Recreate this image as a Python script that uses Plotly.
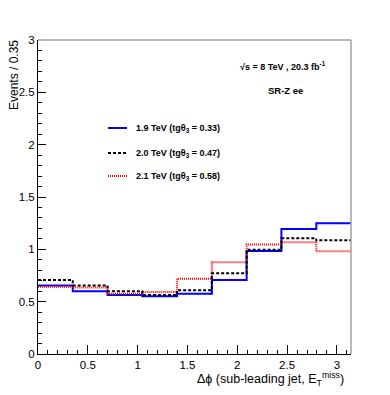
import plotly.graph_objects as go

# ---- data ----
bin_edges = [0.0, 0.349, 0.698, 1.047, 1.396, 1.745, 2.094, 2.443, 2.793, 3.1416]
series_names = ["1.9 TeV (tgθ<sub>3</sub> = 0.33)",
                "2.0 TeV (tgθ<sub>3</sub> = 0.47)",
                "2.1 TeV (tgθ<sub>3</sub> = 0.58)"]
vals_19 = [0.655, 0.600, 0.563, 0.551, 0.576, 0.706, 0.985, 1.194, 1.250]
vals_20 = [0.706, 0.655, 0.600, 0.563, 0.610, 0.772, 0.997, 1.105, 1.086]
vals_21 = [0.643, 0.636, 0.576, 0.592, 0.719, 0.877, 1.045, 1.067, 0.981]
x_ticks = [0, 0.5, 1, 1.5, 2, 2.5, 3]
x_tick_labels = ["0", "0.5", "1", "1.5", "2", "2.5", "3"]
y_ticks = [0, 0.5, 1, 1.5, 2, 2.5, 3]
y_tick_labels = ["0", "0.5", "1", "1.5", "2", "2.5", "3"]

FONT = "Liberation Sans, Arial, Helvetica, sans-serif"

# page body has an 8px default margin; work in window pixels and shift
OFF = 8
W, H = 390 - OFF, 395 - OFF
L, R, T, B = 38, 351, 40, 354  # plot area in window pixels


def px(x):
    return (x - L) / (R - L)


def py(y):
    return (B - y) / (B - T)


styles = [
    dict(color="#0000ff", width=2, dash="solid"),
    dict(color="#000000", width=2, dash="3px,2px"),
    dict(color="#ff0000", width=2, dash="1px,1px"),
]

fig = go.Figure()
order = [0, 2, 1]
all_vals = [vals_19, vals_20, vals_21]
for i in order:
    v = all_vals[i]
    fig.add_trace(go.Scatter(
        x=bin_edges, y=v + [v[-1]], mode="lines", line_shape="hv",
        line=styles[i], name=series_names[i], showlegend=False,
        hoverinfo="skip"))

shapes = []
annotations = []
# frame: gray top/right
shapes.append(dict(type="line", xref="paper", yref="paper", x0=0, x1=1, y0=1, y1=1,
                   line=dict(color="#a0a0a0", width=1.5)))
shapes.append(dict(type="line", xref="paper", yref="paper", x0=1, x1=1, y0=0, y1=1,
                   line=dict(color="#a0a0a0", width=1.5)))

# legend
leg_y = [128, 153, 176]
for i in range(3):
    shapes.append(dict(type="line", xref="paper", yref="paper",
                       x0=px(108), x1=px(127), y0=py(leg_y[i]), y1=py(leg_y[i]),
                       line=styles[i]))
    annotations.append(dict(xref="paper", yref="paper", x=px(134), y=py(leg_y[i]),
                            xanchor="left", yanchor="middle", showarrow=False,
                            text="<b>" + series_names[i] + "</b>",
                            font=dict(family=FONT, size=9, color="black")))

annotations.append(dict(xref="paper", yref="paper", x=px(238), y=py(66),
                        xanchor="left", yanchor="middle", showarrow=False,
                        text="<b>√s = 8 TeV , 20.3 fb<sup>-1</sup></b>",
                        font=dict(family=FONT, size=9, color="black")))
annotations.append(dict(xref="paper", yref="paper", x=px(285), y=py(91),
                        xanchor="center", yanchor="middle", showarrow=False,
                        text="<b>SR-Z ee</b>",
                        font=dict(family=FONT, size=9.5, color="black")))
# axis titles
annotations.append(dict(xref="paper", yref="paper", x=px(346), y=py(390),
                        xanchor="right", yanchor="bottom", showarrow=False,
                        text="Δϕ (sub-leading jet, E<sub>T</sub><sup>miss</sup>)",
                        font=dict(family=FONT, size=12.5, color="black")))
annotations.append(dict(xref="paper", yref="paper", x=px(5), y=py(38),
                        xanchor="left", yanchor="top", showarrow=False, textangle=-90,
                        text="Events / 0.35",
                        font=dict(family=FONT, size=12, color="black")))

fig.update_layout(
    width=W, height=H,
    margin=dict(l=L - OFF, r=390 - R, t=T - OFF, b=395 - B, autoexpand=False),
    paper_bgcolor="white", plot_bgcolor="white",
    shapes=shapes, annotations=annotations,
    showlegend=False,
    font=dict(family=FONT, size=11.5, color="black"),
    xaxis=dict(range=[0, 3.1416], tickvals=x_ticks, ticktext=x_tick_labels,
               ticks="inside", ticklen=9, tickcolor="black", tickwidth=1,
               minor=dict(dtick=0.1, tick0=0, ticks="inside", ticklen=4, tickcolor="black"),
               showline=True, linecolor="black", linewidth=1, showgrid=False,
               zeroline=False, automargin=False, tickfont=dict(family=FONT, size=11.5)),
    yaxis=dict(range=[0, 3], tickvals=y_ticks, ticktext=y_tick_labels,
               ticks="inside", ticklen=8, tickcolor="black", tickwidth=1,
               minor=dict(dtick=0.1, tick0=0, ticks="inside", ticklen=4, tickcolor="black"),
               showline=True, linecolor="black", linewidth=1, showgrid=False,
               zeroline=False, automargin=False, tickfont=dict(family=FONT, size=11.5)),
)

fig.write_html("out.html")
